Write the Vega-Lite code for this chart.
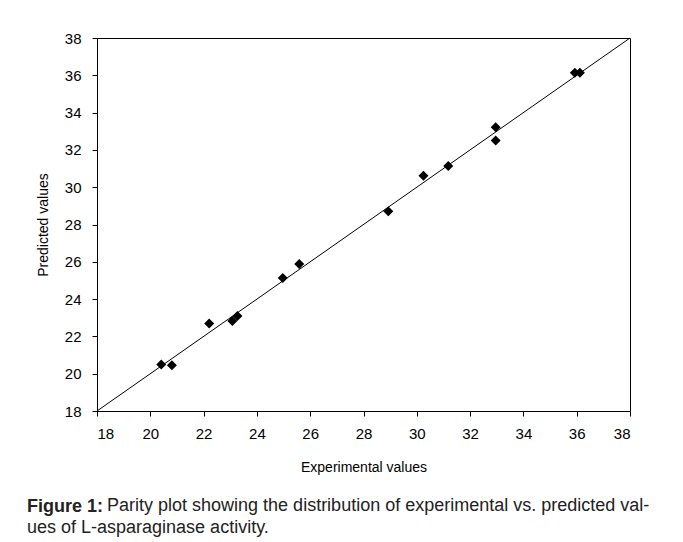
{
  "$schema": "https://vega.github.io/schema/vega-lite/v6.json",
  "width": 533,
  "height": 373,
  "autosize": "none",
  "padding": {"left": 97, "top": 38, "right": 53, "bottom": 131},
  "background": "white",
  "datasets": {
    "points": [
      {"experimental": 20.41, "predicted": 20.50},
      {"experimental": 20.81, "predicted": 20.45},
      {"experimental": 22.21, "predicted": 22.69},
      {"experimental": 23.08, "predicted": 22.83},
      {"experimental": 23.27, "predicted": 23.09},
      {"experimental": 24.97, "predicted": 25.13},
      {"experimental": 25.59, "predicted": 25.88},
      {"experimental": 28.93, "predicted": 28.71},
      {"experimental": 30.25, "predicted": 30.62},
      {"experimental": 31.18, "predicted": 31.14},
      {"experimental": 32.96, "predicted": 33.22},
      {"experimental": 32.96, "predicted": 32.51},
      {"experimental": 35.93, "predicted": 36.14},
      {"experimental": 36.12, "predicted": 36.14}
    ],
    "parity": [
      {"experimental": 18, "predicted": 18},
      {"experimental": 38, "predicted": 38}
    ]
  },
  "config": {
    "font": "Liberation Sans",
    "view": {"stroke": "black", "strokeWidth": 1},
    "axis": {
      "grid": false,
      "domainColor": "black",
      "domainWidth": 1,
      "tickColor": "black",
      "tickSize": 5,
      "labelColor": "black",
      "labelFont": "Liberation Sans",
      "labelFontSize": 15,
      "labelOverlap": false,
      "titleColor": "black",
      "titleFont": "Liberation Sans",
      "titleFontSize": 14,
      "titleFontWeight": "normal"
    }
  },
  "title": {
    "text": "Figure 1:",
    "subtitle": [
      "\u200b\u00a0\u00a0\u00a0\u00a0\u00a0\u00a0\u00a0\u00a0\u00a0\u00a0\u00a0\u00a0\u00a0\u00a0\u00a0\u00a0Parity plot showing the distribution of experimental vs. predicted val-",
      "ues of L-asparaginase activity."
    ],
    "orient": "bottom",
    "anchor": "start",
    "frame": "group",
    "dx": -70,
    "offset": 24,
    "font": "Liberation Sans",
    "fontSize": 18,
    "fontWeight": "bold",
    "color": "#222222",
    "subtitleFont": "Liberation Sans",
    "subtitleFontSize": 18,
    "subtitleColor": "#222222",
    "subtitleLineHeight": 22,
    "subtitlePadding": -19
  },
  "encoding": {
    "x": {
      "field": "experimental",
      "type": "quantitative",
      "scale": {"domain": [18, 38], "nice": false, "zero": false},
      "axis": {"title": "Experimental values", "values": [18, 20, 22, 24, 26, 28, 30, 32, 34, 36, 38], "labelOverlap": false, "labelPadding": 10, "titlePadding": 19}
    },
    "y": {
      "field": "predicted",
      "type": "quantitative",
      "scale": {"domain": [18, 38], "nice": false, "zero": false},
      "axis": {"title": "Predicted values", "values": [18, 20, 22, 24, 26, 28, 30, 32, 34, 36, 38], "labelOverlap": false, "labelPadding": 11, "titlePadding": 14}
    }
  },
  "layer": [
    {
      "data": {"name": "parity"},
      "mark": {"type": "line", "color": "black", "strokeWidth": 1}
    },
    {
      "data": {"name": "points"},
      "mark": {"type": "point", "shape": "diamond", "filled": true, "color": "black", "size": 100, "opacity": 1}
    }
  ]
}
